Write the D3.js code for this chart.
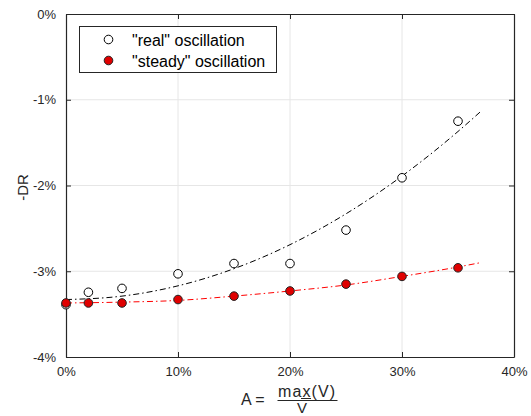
<!DOCTYPE html>
<html>
<head>
<meta charset="utf-8">
<script src="https://cdn.jsdelivr.net/npm/d3@7/dist/d3.min.js"></script>
<style>
  html, body { margin: 0; padding: 0; background: #fff; }
  svg { display: block; font-family: "Liberation Sans", Arial, Helvetica, sans-serif; }
</style>
</head>
<body>
<svg id="chart" width="531" height="416"></svg>
<script>
// ---- data (percent units) ----
const amplitude = [0, 2, 5, 10, 15, 20, 25, 30, 35];
const realDR = [-3.39, -3.245, -3.20, -3.03, -2.91, -2.91, -2.52, -1.91, -1.25];
const steadyDR = [-3.37, -3.37, -3.37, -3.33, -3.29, -3.23, -3.15, -3.06, -2.96];
const fitX = [0, 5, 10, 15, 20, 25, 30, 35, 37];
const realFit = [-3.33, -3.29, -3.17, -2.97, -2.69, -2.33, -1.89, -1.37, -1.14];
const steadyFit = [-3.37, -3.36, -3.34, -3.29, -3.23, -3.16, -3.06, -2.95, -2.90];
const xTicks = [0, 10, 20, 30, 40];
const yTicks = [0, -1, -2, -3, -4];
const legendLabels = ['"real" oscillation', '"steady" oscillation'];

const svg = d3.select("#chart");
const L = 66, R = 514, T = 14, B = 357;
const axisColor = "#262626";

const x = d3.scaleLinear().domain([0, 40]).range([L, R]);
const y = d3.scaleLinear().domain([-4, 0]).range([B, T]);

// grid
const grid = svg.append("g");
grid.selectAll(".gx").data(xTicks.slice(1, -1)).join("line")
  .attr("x1", d => x(d)).attr("x2", d => x(d)).attr("y1", T).attr("y2", B)
  .attr("stroke", "#e6e6e6").attr("stroke-width", 1);
grid.selectAll(".gy").data(yTicks.slice(1, -1)).join("line")
  .attr("y1", d => y(d)).attr("y2", d => y(d)).attr("x1", L).attr("x2", R)
  .attr("stroke", "#e6e6e6").attr("stroke-width", 1);

// axes (box with inward ticks)
const fmt = d => d + "%";
const axB = d3.axisBottom(x).tickValues(xTicks).tickSizeInner(-5).tickSizeOuter(0).tickPadding(10).tickFormat(fmt);
const axT = d3.axisTop(x).tickValues(xTicks).tickSizeInner(-5).tickSizeOuter(0).tickFormat("");
const axLft = d3.axisLeft(y).tickValues(yTicks).tickSizeInner(-5).tickSizeOuter(0).tickPadding(10).tickFormat(fmt);
const axRgt = d3.axisRight(y).tickValues(yTicks).tickSizeInner(-5).tickSizeOuter(0).tickFormat("");

function style(g) {
  g.selectAll("path").attr("stroke", axisColor).attr("stroke-width", 1.2);
  g.selectAll("line").attr("stroke", axisColor).attr("stroke-width", 1);
  g.selectAll("text").attr("fill", axisColor).attr("font-size", 13)
    .attr("font-family", "'Liberation Sans', Arial, sans-serif");
}
svg.append("g").attr("transform", `translate(0,${B})`).call(axB).call(style);
svg.append("g").attr("transform", `translate(0,${T})`).call(axT).call(style);
svg.append("g").attr("transform", `translate(${L},0)`).call(axLft).call(style);
svg.append("g").attr("transform", `translate(${R},0)`).call(axRgt).call(style);

// fit curves
const line = d3.line().x(d => x(d[0])).y(d => y(d[1])).curve(d3.curveMonotoneX);
svg.append("path").datum(fitX.map((v, i) => [v, realFit[i]]))
  .attr("d", line).attr("fill", "none").attr("stroke", "#000")
  .attr("stroke-width", 1).attr("stroke-dasharray", "6,3,1.5,3");
svg.append("path").datum(fitX.map((v, i) => [v, steadyFit[i]]))
  .attr("d", line).attr("fill", "none").attr("stroke", "#ff0000")
  .attr("stroke-width", 1).attr("stroke-dasharray", "6,3,1.5,3");

// markers
svg.append("g").selectAll("circle").data(amplitude.map((v, i) => [v, realDR[i]])).join("circle")
  .attr("cx", d => x(d[0])).attr("cy", d => y(d[1])).attr("r", 4.3)
  .attr("fill", "#fff").attr("stroke", "#000").attr("stroke-width", 1);
svg.append("g").selectAll("circle").data(amplitude.map((v, i) => [v, steadyDR[i]])).join("circle")
  .attr("cx", d => x(d[0])).attr("cy", d => y(d[1])).attr("r", 4.3)
  .attr("fill", "#e00000").attr("stroke", "#222").attr("stroke-width", 1);

// legend
const lg = svg.append("g");
lg.append("rect").attr("x", 79.5).attr("y", 26.5).attr("width", 197).attr("height", 46)
  .attr("fill", "#fff").attr("stroke", axisColor).attr("stroke-width", 1);
const fills = ["#fff", "#e00000"];
legendLabels.forEach((lab, i) => {
  const cy = 39.5 + i * 21;
  lg.append("circle").attr("cx", 108.5).attr("cy", cy).attr("r", 4.3)
    .attr("fill", fills[i]).attr("stroke", i ? "#222" : "#000").attr("stroke-width", 1);
  lg.append("text").attr("x", 132).attr("y", cy + 6).attr("font-size", 16)
    .attr("fill", "#000").text(lab);
});

// y label
svg.append("text").attr("transform", `translate(28,${(T + B) / 2 + 2}) rotate(-90)`)
  .attr("text-anchor", "middle").attr("font-size", 15).attr("fill", axisColor).text("-DR");

// x label: A = max(V) / V-bar
const xl = svg.append("g").attr("fill", axisColor);
xl.append("text").attr("x", 241).attr("y", 405).attr("font-size", 16).text("A =");
xl.append("text").attr("x", 278).attr("y", 397).attr("font-size", 16)
  .attr("textLength", 57).attr("lengthAdjust", "spacing").text("max(V)");
xl.append("line").attr("x1", 277.5).attr("x2", 337.5).attr("y1", 400.5).attr("y2", 400.5)
  .attr("stroke", axisColor).attr("stroke-width", 1);
xl.append("line").attr("x1", 301).attr("x2", 311).attr("y1", 398.5).attr("y2", 398.5)
  .attr("stroke", axisColor).attr("stroke-width", 1);
xl.append("text").attr("x", 297).attr("y", 413).attr("font-size", 15).text("V");
</script>
</body>
</html>
